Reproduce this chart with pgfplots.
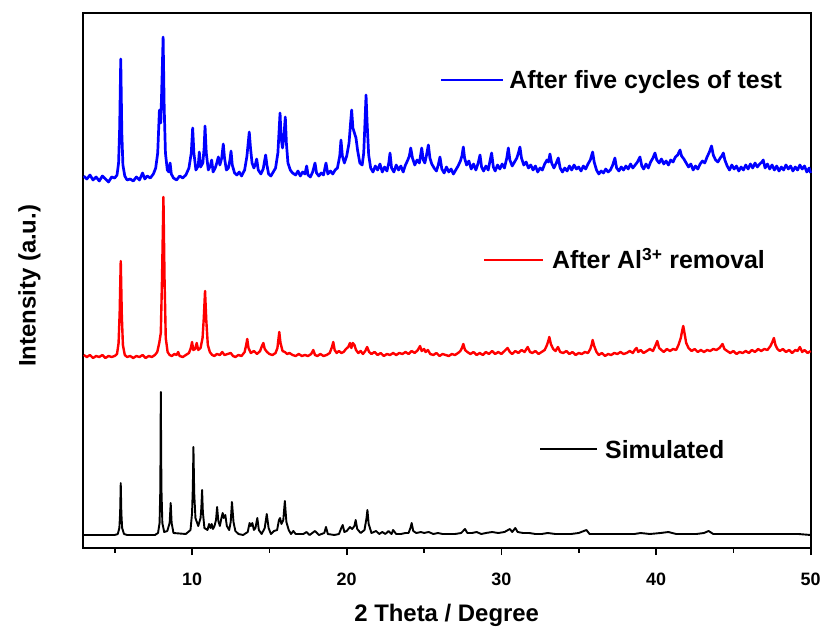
\documentclass[border=0pt]{standalone}
\usepackage{fontspec}
\setmainfont{Liberation Sans}
\usepackage{pgfplots}
\pgfplotsset{compat=1.18}

% intensities are given as heights above the bottom of the frame (stacked patterns)
\pgfplotstableread{
x y
3.0 13
5.0 13
5.2 14
5.3 20
5.35 35
5.39 65
5.43 35
5.48 20
5.6 14
5.8 13
7.6 13
7.8 15
7.9 25
7.95 60
7.98 156
8.02 60
8.08 25
8.2 16
8.4 17
8.55 25
8.62 45
8.68 25
8.8 15
9.6 14
9.9 18
10.0 35
10.05 60
10.09 101
10.14 55
10.22 30
10.4 22
10.55 30
10.6 40
10.65 58
10.7 36
10.8 20
11.0 18
11.1 24
11.2 20
11.27 24
11.35 19
11.45 22
11.55 28
11.62 41
11.7 27
11.8 22
11.9 30
11.98 35
12.05 30
12.15 33
12.25 22
12.4 18
12.5 26
12.58 46
12.68 26
12.8 17
13.0 14
13.3 13
13.6 16
13.72 25
13.8 22
13.9 25
14.0 18
14.1 20
14.22 30
14.32 18
14.5 14
14.7 20
14.83 34
14.95 20
15.1 14
15.3 17
15.5 18
15.62 28
15.69 30
15.78 24
15.9 28
16.0 47
16.1 26
16.25 18
16.4 14
16.55 17
16.7 14
17.0 14
17.2 14
17.4 16
17.6 13
17.95 17
18.2 13
18.55 15
18.66 21
18.78 14
19.2 13
19.5 14
19.65 20
19.74 23
19.85 16
20.0 17
20.21 21
20.35 19
20.5 22
20.58 28
20.68 19
20.9 15
21.15 18
21.28 30
21.34 38
21.42 24
21.6 15
21.9 17
22.1 14
22.3 16
22.5 14
22.7 17
22.9 14
23.0 18
23.2 14
23.5 14
23.8 15
24.0 15
24.12 20
24.2 25
24.3 17
24.5 15
24.8 16
25.0 15
25.3 16
25.6 14
25.9 15
26.2 14
26.6 14
27.0 14
27.4 15
27.65 19
27.8 15
28.1 15
28.4 16
28.7 14
29.0 15
29.4 16
29.8 15
30.2 16
30.55 19
30.7 16
30.9 20
31.05 16
31.4 15
31.8 15
32.2 14
32.6 14
33.0 15
33.5 14
34.0 14
34.5 14
35.0 15
35.5 18
35.7 14
36.2 14
36.8 14
37.5 14
38.0 14
38.6 14
39.0 15
39.6 14
40.3 15
40.8 16
41.3 14
42.0 14
42.6 14
43.1 15
43.4 17
43.7 14
44.3 14
45.0 14
45.6 14
46.3 14
47.0 14
47.8 14
48.5 14
49.2 14
50.0 13
}\simulated

\pgfplotstableread{
x y
3.0 193
3.2 191
3.4 193
3.6 190
3.8 192
4.0 191
4.2 193
4.4 190
4.6 192
4.8 191
5.0 192
5.15 194
5.25 205
5.32 235
5.39 287
5.46 232
5.53 203
5.65 193
5.8 191
6.0 192
6.2 190
6.4 192
6.6 191
6.8 193
7.0 190
7.2 192
7.4 191
7.6 193
7.75 196
7.88 205
7.98 215
8.06 270
8.15 351
8.22 270
8.3 210
8.42 196
8.55 193
8.7 192
8.85 194
9.0 193
9.1 196
9.2 192
9.4 191
9.6 193
9.8 195
9.92 200
10.0 206
10.08 198
10.2 199
10.3 205
10.4 198
10.55 200
10.68 210
10.76 230
10.84 257
10.92 228
11.02 203
11.15 196
11.3 193
11.45 192
11.6 194
11.8 193
11.95 196
12.1 193
12.3 194
12.5 195
12.65 192
12.8 191
13.0 193
13.2 192
13.4 196
13.5 203
13.57 209
13.65 200
13.8 195
14.0 197
14.2 194
14.4 197
14.52 202
14.61 205
14.7 199
14.85 196
15.0 194
15.2 193
15.4 195
15.52 200
15.58 208
15.64 216
15.72 205
15.85 197
16.0 196
16.15 194
16.3 195
16.5 193
16.7 192
16.9 194
17.1 192
17.3 193
17.5 192
17.7 194
17.84 198
17.95 193
18.1 192
18.3 194
18.5 192
18.7 193
18.9 195
19.05 201
19.13 206
19.22 198
19.35 195
19.5 197
19.65 195
19.8 196
19.95 199
20.1 201
20.21 205
20.3 200
20.39 205
20.5 203
20.6 198
20.75 195
20.9 197
21.05 194
21.2 197
21.32 201
21.45 196
21.6 194
21.8 196
22.0 193
22.2 195
22.4 192
22.6 194
22.8 193
23.0 195
23.2 193
23.4 195
23.6 194
23.8 196
24.0 194
24.2 197
24.4 195
24.6 198
24.74 202
24.85 197
25.0 199
25.1 196
25.25 198
25.4 194
25.6 193
25.8 195
26.0 192
26.2 194
26.4 193
26.6 192
26.8 194
27.0 193
27.2 195
27.35 197
27.45 200
27.54 204
27.65 198
27.8 196
28.0 194
28.2 196
28.4 193
28.6 195
28.8 193
29.0 196
29.2 194
29.4 197
29.6 194
29.8 196
30.0 194
30.2 197
30.4 200
30.55 196
30.7 194
30.9 197
31.1 195
31.3 198
31.5 196
31.7 201
31.85 196
32.0 195
32.2 197
32.4 194
32.6 196
32.8 198
32.95 203
33.05 208
33.1 211
33.2 204
33.35 199
33.5 197
33.66 201
33.8 196
34.0 195
34.2 197
34.4 194
34.6 196
34.8 193
35.0 195
35.2 194
35.4 196
35.6 195
35.75 199
35.85 204
35.9 208
36.0 202
36.15 196
36.3 193
36.5 195
36.7 192
36.9 194
37.1 193
37.3 195
37.5 194
37.7 196
37.9 194
38.1 195
38.3 197
38.5 195
38.62 198
38.74 200
38.85 196
39.0 198
39.2 195
39.4 197
39.6 199
39.8 197
39.95 202
40.08 207
40.2 200
40.35 198
40.5 196
40.7 199
40.9 197
41.1 199
41.3 198
41.45 203
41.6 210
41.7 218
41.76 222
41.85 214
41.95 205
42.1 200
42.3 197
42.5 199
42.7 196
42.9 198
43.1 196
43.3 198
43.5 197
43.7 199
43.9 198
44.1 200
44.2 202
44.3 204
44.42 199
44.6 197
44.8 195
45.0 197
45.2 194
45.4 196
45.6 195
45.8 197
46.0 195
46.2 198
46.4 196
46.6 199
46.8 197
47.0 199
47.2 198
47.4 202
47.52 206
47.62 210
47.72 203
47.85 199
48.0 197
48.2 199
48.4 196
48.6 198
48.8 195
49.0 198
49.15 197
49.3 201
49.45 196
49.6 198
49.8 195
50.0 197
}\removal

\pgfplotstableread{
x y
3.0 372
3.2 369
3.4 373
3.6 368
3.8 371
4.0 367
4.2 372
4.4 369
4.6 366
4.8 371
5.0 370
5.15 373
5.25 385
5.32 420
5.39 489
5.46 415
5.53 383
5.65 372
5.8 368
6.0 369
6.2 367
6.4 371
6.6 368
6.8 375
6.95 369
7.1 372
7.3 370
7.5 374
7.65 380
7.78 395
7.89 438
7.98 425
8.06 470
8.13 511
8.2 440
8.28 395
8.4 378
8.5 376
8.58 385
8.66 374
8.8 370
9.0 368
9.2 372
9.4 370
9.6 373
9.8 380
9.95 395
10.04 420
10.12 395
10.25 378
10.4 382
10.47 396
10.55 381
10.7 385
10.78 400
10.84 422
10.92 395
11.05 378
11.18 382
11.27 388
11.36 376
11.5 380
11.6 385
11.7 391
11.8 383
11.92 390
12.02 404
12.1 390
12.22 378
12.35 380
12.45 388
12.52 397
12.6 383
12.75 375
12.9 373
13.05 376
13.2 372
13.4 378
13.55 392
13.63 405
13.7 416
13.78 400
13.88 385
14.0 380
14.1 384
14.18 389
14.28 378
14.45 374
14.6 379
14.7 388
14.76 393
14.84 383
14.95 374
15.1 372
15.25 376
15.4 380
15.55 395
15.62 415
15.69 435
15.76 410
15.85 400
15.93 410
16.03 431
16.1 405
16.2 385
16.35 378
16.5 375
16.7 373
16.85 377
17.0 372
17.15 376
17.3 374
17.41 382
17.5 373
17.65 371
17.8 376
17.95 385
18.05 375
18.2 372
18.35 375
18.5 373
18.66 385
18.78 374
18.95 377
19.1 374
19.25 378
19.4 380
19.55 392
19.63 408
19.72 392
19.85 385
20.0 392
20.15 405
20.25 425
20.32 438
20.4 420
20.5 415
20.6 410
20.7 398
20.85 385
21.0 383
21.1 395
21.18 425
21.25 453
21.32 425
21.42 393
21.55 380
21.7 376
21.85 382
22.0 378
22.15 384
22.3 376
22.45 381
22.6 377
22.72 385
22.8 395
22.9 380
23.05 376
23.2 383
23.35 378
23.5 382
23.65 376
23.8 383
23.95 388
24.05 392
24.14 400
24.25 390
24.4 383
24.55 388
24.7 385
24.85 400
24.95 388
25.05 385
25.15 392
25.28 403
25.38 390
25.5 384
25.65 380
25.8 377
25.92 383
26.03 391
26.15 379
26.3 375
26.45 381
26.6 376
26.75 379
26.9 374
27.05 378
27.2 382
27.35 387
27.45 392
27.54 401
27.62 390
27.75 383
27.9 387
28.05 379
28.2 384
28.35 378
28.5 385
28.62 393
28.72 381
28.85 377
29.0 382
29.15 378
29.25 386
29.37 395
29.48 381
29.6 377
29.75 383
29.9 379
30.05 384
30.2 380
30.35 390
30.45 400
30.55 388
30.7 382
30.85 386
31.0 390
31.1 395
31.2 401
31.3 390
31.45 383
31.6 386
31.75 380
31.9 383
32.05 378
32.2 382
32.35 376
32.5 380
32.65 378
32.8 384
32.95 388
33.05 386
33.14 394
33.25 385
33.4 380
33.55 385
33.68 390
33.8 380
33.95 376
34.1 380
34.25 377
34.4 382
34.55 378
34.7 383
34.85 379
35.0 381
35.15 377
35.3 382
35.45 379
35.6 384
35.75 388
35.9 396
36.0 386
36.15 378
36.3 374
36.45 377
36.6 375
36.75 379
36.9 376
37.05 378
37.2 383
37.34 390
37.45 380
37.6 377
37.75 381
37.9 378
38.05 382
38.2 379
38.35 384
38.5 380
38.65 383
38.8 386
38.96 391
39.08 382
39.2 379
39.35 384
39.5 380
39.65 386
39.8 390
39.93 395
40.05 388
40.2 385
40.35 389
40.5 384
40.65 387
40.8 383
40.95 388
41.1 386
41.25 391
41.4 393
41.55 398
41.65 392
41.8 389
41.95 385
42.1 381
42.25 384
42.4 378
42.55 382
42.7 379
42.85 384
43.0 387
43.15 385
43.3 391
43.45 396
43.59 402
43.7 393
43.85 388
44.0 386
44.15 390
44.25 392
44.35 395
44.45 388
44.6 382
44.75 378
44.9 383
45.05 379
45.2 382
45.35 377
45.5 381
45.65 378
45.8 383
45.95 379
46.1 384
46.25 380
46.4 385
46.55 381
46.7 384
46.85 386
46.93 388
47.05 380
47.2 384
47.35 379
47.5 383
47.65 378
47.8 382
47.95 377
48.1 381
48.25 378
48.4 383
48.55 379
48.7 382
48.85 377
49.0 381
49.15 378
49.3 383
49.45 379
49.6 382
49.75 376
49.9 380
50.0 375
}\cycles

\begin{document}
\begin{tikzpicture}
\begin{axis}[
  scale only axis,
  width=728bp, height=535bp,
  xmin=2.93, xmax=50, ymin=0, ymax=535,
  xtick={10,20,30,40,50},
  minor xtick={5,15,25,35,45},
  ytick=\empty,
  xtick pos=bottom,
  tick align=outside,
  major tick length=7bp,
  minor tick length=4.5bp,
  axis line style={line width=1.7bp},
  every tick/.style={black, line width=1.6bp},
  /pgf/number format/assume math mode=true,
  ticklabel style={font=\fontsize{18}{18}\selectfont\bfseries},
  xticklabel style={anchor=base, yshift=-30bp},
  label style={font=\fontsize{24}{24}\selectfont\bfseries},
  xlabel={2 Theta / Degree},
  ylabel={Intensity (a.u.)},
  xlabel style={at={(rel axis cs:0.5,-0.137)}, anchor=base},
  ylabel style={at={(rel axis cs:-0.0646,0.49)}, anchor=base, rotate=0},
  clip=false,
]
\coordinate (sw) at (rel axis cs:0,0);
\addplot[black, line width=1.9bp, line join=round] table {\simulated};
\addplot[red, line width=2.4bp, line join=round] table {\removal};
\addplot[blue, line width=2.7bp, line join=round] table {\cycles};

% labels beside each pattern
\draw[blue, line width=2.2bp] (axis cs:26.11,468) -- (axis cs:30.12,468);
\node[anchor=base west, inner sep=0pt, font=\fontsize{25}{25}\selectfont\bfseries]
  at (axis cs:30.5,459) {After five cycles of test};
\draw[red, line width=2.2bp] (axis cs:28.9,288) -- (axis cs:32.7,288);
\node[anchor=base west, inner sep=0pt, font=\fontsize{25}{25}\selectfont\bfseries]
  at (axis cs:33.27,279) {After Al\textsuperscript{3+} removal};
\draw[black, line width=2.2bp] (axis cs:32.5,99) -- (axis cs:36.2,99);
\node[anchor=base west, inner sep=0pt, font=\fontsize{25}{25}\selectfont\bfseries]
  at (axis cs:36.7,90) {Simulated};
\end{axis}
\path (sw) ++(-82.7bp,-85bp) rectangle ++(824bp,633bp);
\end{tikzpicture}
\end{document}
